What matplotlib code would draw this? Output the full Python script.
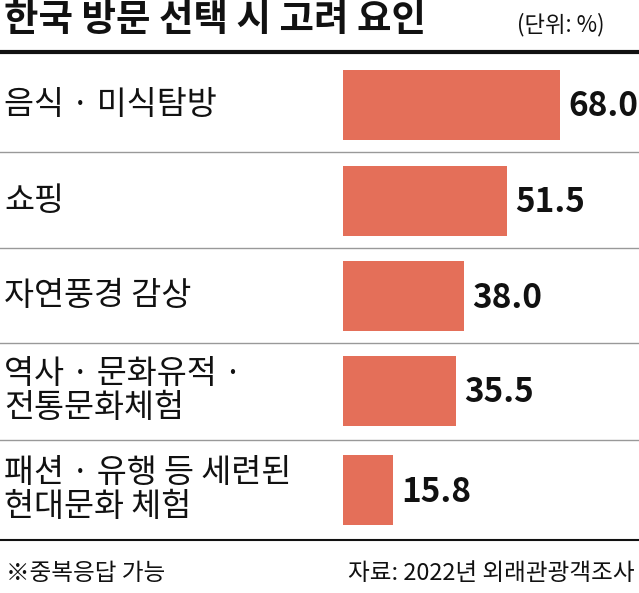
import matplotlib
matplotlib.use("Agg")
import matplotlib.pyplot as plt

categories = ["음식 · 미식탐방", "쇼핑", "자연풍경 감상", "역사 · 문화유적 ·\n전통문화체험", "패션 · 유행 등 세련된\n현대문화 체험"]
values = [68.0, 51.5, 38.0, 35.5, 15.8]
value_labels = ["68.0", "51.5", "38.0", "35.5", "15.8"]

plt.rcParams['font.family'] = ['Noto Sans CJK KR', 'DejaVu Sans']
W, H = 639, 593
fig = plt.figure(figsize=(W/100, H/100), dpi=100)
ax = fig.add_axes([0, 0, 1, 1])
scale = 3.19
x0 = 343
ax.set_xlim(-x0/scale, (W-x0)/scale)
ax.set_ylim(H, 0)
ax.axis('off')

centers = [105, 201, 296, 391, 490]
ax.barh(centers, values, left=0, height=70, color='#E46F59')

def px(x):
    return (x - x0)/scale

for c, v, lab, cat in zip(centers, values, value_labels, categories):
    ax.text(v + 2.5, c+2, lab, va='center', ha='left', fontsize=24, fontweight='bold', color='#111')
    ax.text(px(4), c, cat, va='center', ha='left', fontsize=23.5, color='#111', linespacing=1.05)

# title
ax.text(px(4), 20, "한국 방문 선택 시 고려 요인", va='center', ha='left', fontsize=27, fontweight='bold', color='#111')
ax.text(px(517), 25, "(단위: %)", va='center', ha='left', fontsize=16, color='#111')
ax.plot([px(0), px(W)], [52, 52], color='#111', lw=3)
for y in [152, 248, 343, 440]:
    ax.plot([px(0), px(W)], [y, y], color='#999', lw=1)
ax.plot([px(0), px(W)], [540, 540], color='#111', lw=1.5)
ax.text(px(6), 573, "※중복응답 가능", va='center', ha='left', fontsize=17, color='#111')
ax.text(px(W-4), 573, "자료: 2022년 외래관광객조사", va='center', ha='right', fontsize=17, color='#111')

fig.savefig("out.png", dpi=100)
